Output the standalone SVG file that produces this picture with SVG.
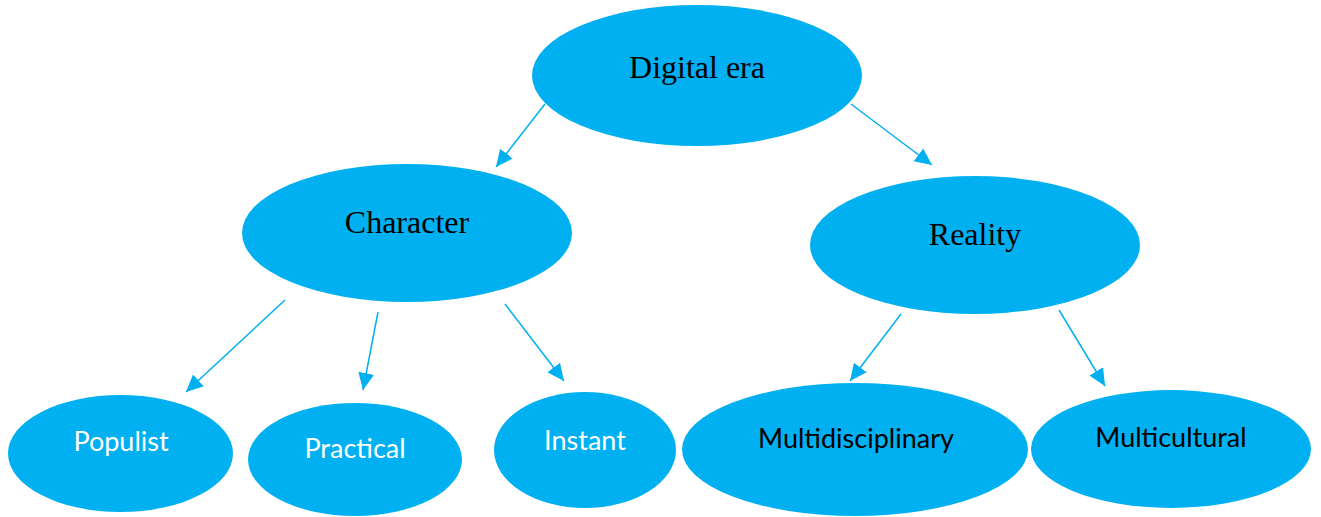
<svg xmlns="http://www.w3.org/2000/svg" width="1321" height="517" viewBox="0 0 1321 517">
<defs>
<style>
.n{fill:#00B0F0;}
.s{font-family:"Liberation Serif","Times New Roman",serif;font-size:32px;fill:#000;text-anchor:middle;}
.w{font-family:Lato,"Liberation Sans",sans-serif;font-size:27px;fill:#fff;text-anchor:middle;}
.b{font-family:Lato,"Liberation Sans",sans-serif;font-size:27px;fill:#000;text-anchor:middle;}
.c{stroke:#00B0F0;stroke-width:1.5;fill:none;marker-end:url(#ah);}
</style>
<marker id="ah" markerUnits="userSpaceOnUse" markerWidth="20" markerHeight="18" refX="17" refY="9" orient="auto">
<path d="M0,1 L17,9 L0,17 Z" fill="#00B0F0"/>
</marker>
</defs>
<rect width="1321" height="517" fill="#fff"/>
<g id="connectors">
<line class="c" x1="545" y1="104" x2="496" y2="167"/>
<line class="c" x1="851" y1="104" x2="932" y2="165"/>
<line class="c" x1="285" y1="300" x2="186" y2="392"/>
<line class="c" x1="378" y1="312" x2="363" y2="390"/>
<line class="c" x1="505" y1="304" x2="564" y2="381"/>
<line class="c" x1="901" y1="314" x2="850" y2="381"/>
<line class="c" x1="1059" y1="310" x2="1105" y2="386"/>
</g>
<g id="digital-era"><ellipse class="n" cx="697" cy="75.5" rx="165" ry="70.5"/><text class="s" x="697" y="78">Digital era</text></g>
<g id="character"><ellipse class="n" cx="407" cy="233" rx="165" ry="69"/><text class="s" x="407" y="233">Character</text></g>
<g id="reality"><ellipse class="n" cx="975" cy="245" rx="165" ry="69"/><text class="s" x="975" y="245">Reality</text></g>
<g id="populist"><ellipse class="n" cx="120.5" cy="453.5" rx="112.5" ry="58.5"/><text class="w" x="121" y="451">Populist</text></g>
<g id="practical"><ellipse class="n" cx="355" cy="459.5" rx="107" ry="56.5"/><text class="w" x="355" y="458">Practical</text></g>
<g id="instant"><ellipse class="n" cx="585" cy="450" rx="91" ry="58"/><text class="w" x="585" y="450">Instant</text></g>
<g id="multidisciplinary"><ellipse class="n" cx="855" cy="449.5" rx="173" ry="66.5"/><text class="b" x="856" y="448">Multidisciplinary</text></g>
<g id="multicultural"><ellipse class="n" cx="1171" cy="449" rx="140" ry="59"/><text class="b" x="1171" y="447">Multicultural</text></g>
</svg>
